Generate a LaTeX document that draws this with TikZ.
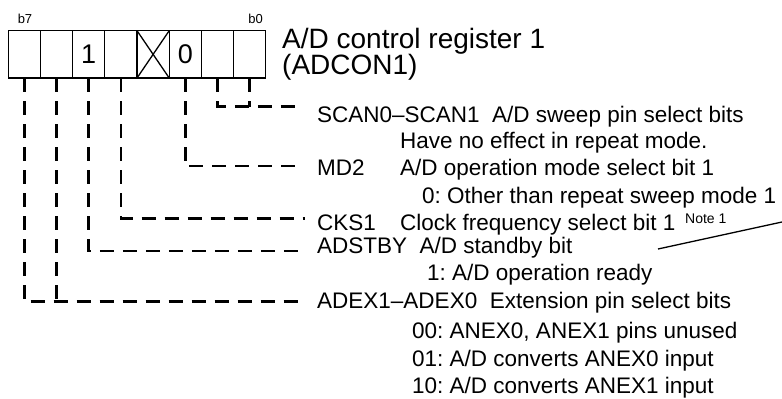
\documentclass[tikz,border=0pt]{standalone}
\usepackage{fontspec}
\setmainfont{Liberation Sans}
\frenchspacing
\begin{document}
\begin{tikzpicture}[x=1pt,y=-1pt,
  cell/.style={draw,line width=1.3pt,minimum width=32.18pt,minimum height=47.3pt,inner sep=0pt,outer sep=0pt},
  conn/.style={line width=2.6pt,dash pattern=on 14pt off 9pt},
  txt/.style={anchor=base west,inner sep=0pt,font=\fontsize{22.5}{27}\selectfont},
  ttl/.style={anchor=base west,inner sep=0pt,font=\fontsize{28}{32}\selectfont},
  bitlbl/.style={inner sep=0pt,font=\fontsize{13}{15}\selectfont},
  val/.style={inner sep=0pt,font=\fontsize{27}{30}\selectfont},
  note/.style={anchor=base west,inner sep=0pt,font=\fontsize{14}{16}\selectfont}]
\useasboundingbox (0,0) rectangle (782,399);
% register cells (b7 left ... b0 right)
\foreach \i/\n in {0/c7,1/c6,2/c5,3/c4,4/c3,5/c2,6/c1,7/c0}{
  \node[cell] (\n) at ({8.3+32.18*\i+16.09},54.35) {};
}
\node[val] (v5) at (c5) {1};
\node[val] (v2) at (c2) {0};
\draw[line width=1.3pt] (c3.north west) -- (c3.south east) (c3.north east) -- (c3.south west);
\node[bitlbl] (b7) at (25,19) {b7};
\node[bitlbl] (b0) at (255.5,19) {b0};
% title
\node[ttl] (t1) at (282,48) {A/D control register 1};
\node[ttl] (t2) at (282,74) {(ADCON1)};
% texts
\node[txt] (scan) at (317,122) {SCAN0–SCAN1\ \ A/D sweep pin select bits};
\node[txt] (scand) at (400,148) {Have no effect in repeat mode.};
\node[txt] (md) at (317,175) {MD2};
\node[txt] (mdt) at (400,175) {A/D operation mode select bit 1};
\node[txt] (mdd) at (422,203) {0: Other than repeat sweep mode 1};
\node[txt] (cks) at (317,230) {CKS1};
\node[txt] (ckst) at (400,230) {Clock frequency select bit 1};
\node[note] (nt) at (685,223) {Note 1};
\node[txt] (ads) at (317,253) {ADSTBY\ \ A/D standby bit};
\node[txt] (adsd) at (427,280) {1: A/D operation ready};
\node[txt] (adex) at (317,308) {ADEX1–ADEX0\ \ Extension pin select bits};
\node[txt] (ad0) at (412,338) {00: ANEX0, ANEX1 pins unused};
\node[txt] (ad1) at (412,366) {01: A/D converts ANEX0 input};
\node[txt] (ad2) at (412,393) {10: A/D converts ANEX1 input};
% connector ends
\coordinate (escan) at (303,106.7);
\coordinate (emd) at (303,166);
\coordinate (ecks) at (305,218.3);
\coordinate (eads) at (303,251);
\coordinate (eadex) at (303,301.7);
\coordinate (na) at (658,249);
\coordinate (nb) at (782,222);
% connectors
\draw[conn] (c1.south) |- (escan);
\draw[conn] (c0.south) -- (c0.south |- escan);
\draw[conn] (c2.south) |- (emd);
\draw[conn] (c4.south) |- (ecks);
\draw[conn] (c5.south) |- (eads);
\draw[conn] (c7.south) |- (eadex);
\draw[conn] (c6.south) -- (c6.south |- eadex);
\draw[line width=1.3pt] (na) -- (nb);
\end{tikzpicture}
\end{document}
